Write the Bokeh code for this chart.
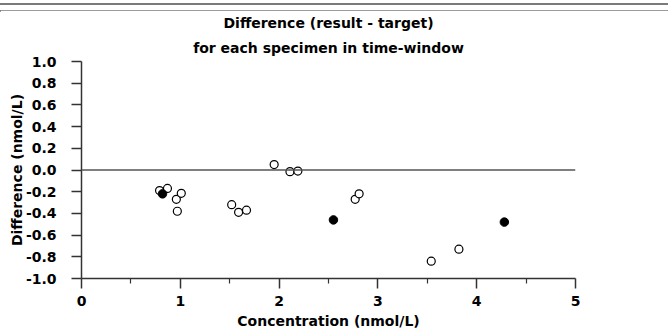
from bokeh.plotting import figure
from bokeh.models import (Range1d, FixedTicker, PrintfTickFormatter, Span, Title, ColumnDataSource, Div)
from bokeh.layouts import column
from bokeh.embed import file_html
from bokeh.resources import INLINE

# ---- data ----
open_conc = [0.79, 0.87, 0.96, 0.97, 1.01, 1.52, 1.59, 1.67, 1.95, 2.11, 2.19, 2.77, 2.81, 3.54, 3.82]
open_diff = [-0.19, -0.17, -0.27, -0.38, -0.215, -0.32, -0.39, -0.37, 0.05, -0.015, -0.01, -0.27, -0.22, -0.84, -0.73]
filled_conc = [0.82, 2.55, 4.28]
filled_diff = [-0.22, -0.46, -0.48]
x_ticks = [0, 1, 2, 3, 4, 5]
x_minor = [0.5, 1.5, 2.5, 3.5, 4.5]
y_ticks = [-1.0, -0.8, -0.6, -0.4, -0.2, 0.0, 0.2, 0.4, 0.6, 0.8, 1.0]
title_line1 = "Difference (result - target)"
title_line2 = "for each specimen in time-window"
x_label = "Concentration (nmol/L)"
y_label = "Difference (nmol/L)"

FONT = "DejaVu Sans"
AX = "#333333"

# ---- top double rule ----
rule_html = (
    '<div style="position:relative;width:668px;height:10px;margin:0;padding:0;">'
    '<div style="position:absolute;left:0;top:1px;width:668px;height:2px;background:#7a7a7a;"></div>'
    '<div style="position:absolute;left:0;top:8px;width:668px;height:2px;background:#7a7a7a;"></div>'
    '</div>'
)
top = Div(text=rule_html, width=668, height=10, margin=0)

# ---- main chart ----
p = figure(width=668, height=321, x_range=Range1d(0, 5), y_range=Range1d(-1, 1),
           output_backend="svg", toolbar_location=None,
           min_border_left=81, min_border_right=93, min_border_top=51, min_border_bottom=53)
p.outline_line_color = None
p.grid.visible = False

p.add_layout(Title(text=title_line2, align="center", text_font=FONT, text_font_size="14px",
                   text_font_style="bold", text_color="black", standoff=11), "above")
p.add_layout(Title(text=title_line1, align="center", text_font=FONT, text_font_size="14px",
                   text_font_style="bold", text_color="black", standoff=3), "above")

p.xaxis.ticker = FixedTicker(ticks=x_ticks, minor_ticks=x_minor)
p.yaxis.ticker = FixedTicker(ticks=y_ticks, minor_ticks=[])
p.yaxis.formatter = PrintfTickFormatter(format="%.1f")
p.xaxis.formatter = PrintfTickFormatter(format="%d")

for ax in (p.xaxis, p.yaxis):
    ax.axis_line_color = AX
    ax.axis_line_width = 1.5
    ax.major_tick_line_color = AX
    ax.major_tick_line_width = 1.5
    ax.minor_tick_line_color = AX
    ax.minor_tick_line_width = 1.2
    ax.major_tick_in = 0
    ax.major_tick_out = 10
    ax.minor_tick_in = 0
    ax.minor_tick_out = 5
    ax.major_label_text_font = FONT
    ax.major_label_text_font_size = "14px"
    ax.major_label_text_font_style = "bold"
    ax.major_label_text_color = "black"
    ax.axis_label_text_font = FONT
    ax.axis_label_text_font_size = "14px"
    ax.axis_label_text_font_style = "bold"
    ax.axis_label_text_color = "black"

p.xaxis.axis_label = x_label
p.yaxis.axis_label = y_label
p.xaxis.major_label_standoff = 7
p.yaxis.major_label_standoff = 15
p.xaxis.axis_label_standoff = 4
p.yaxis.axis_label_standoff = -2

p.add_layout(Span(location=0, dimension="width", line_color="#555555", line_width=1.5))

src_open = ColumnDataSource(dict(x=open_conc, y=open_diff))
src_fill = ColumnDataSource(dict(x=filled_conc, y=filled_diff))
p.scatter("x", "y", source=src_open, marker="circle", size=8, fill_color="white",
          line_color="black", line_width=1.2)
p.scatter("x", "y", source=src_fill, marker="circle", size=8.5, fill_color="black",
          line_color="black", line_width=1)

layout = column(top, p, spacing=0)
open("out.html", "w").write(file_html(layout, INLINE))
